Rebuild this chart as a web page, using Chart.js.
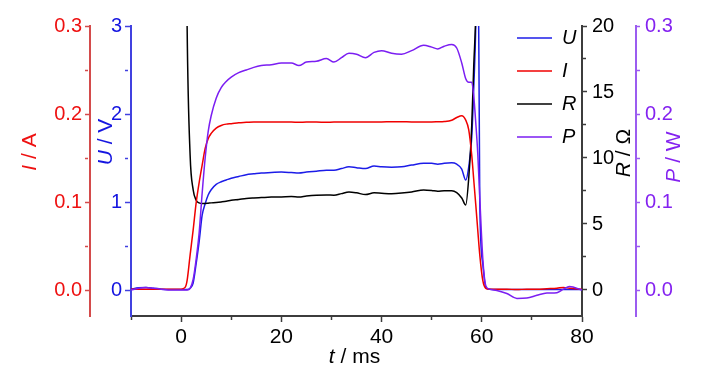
<!DOCTYPE html>
<html>
<head>
<meta charset="utf-8">
<title>U, I, R, P vs t</title>
<script src="https://cdn.jsdelivr.net/npm/chart.js@4.4.1/dist/chart.umd.min.js"></script>
<style>
  html, body { margin: 0; padding: 0; background: #fff; }
  #wrap { width: 728px; height: 372px; }
</style>
</head>
<body>
<div id="wrap"><canvas id="chart" width="728" height="372"></canvas></div>
<script>
// ─── Data ─────────────────────────────────────────────────────────────────────
const timeMs = [-10, -8.5, -7, -5.5, -4, -2, 0, 0.8, 1.2, 1.8,
  2.4, 3, 3.6, 4.2, 4.8, 5.4, 6, 7, 8, 9,
  10, 11.5, 13, 14.5, 16, 18, 20, 22, 23.5, 25,
  27, 29, 30.5, 32, 33.5, 35, 36.8, 38.5, 40, 42,
  44, 46, 48.4, 50, 51.2, 52.5, 54, 55, 56, 56.8,
  57.4, 58, 58.4, 58.8, 59.2, 59.6, 60.2, 60.8, 61.5, 63,
  65, 67, 69, 71, 73, 75, 76.3, 77.5, 80];

const voltage = [0.01, 0.025, 0.03, 0.02, 0.01, 0.005, 0.005, 0.005, 0.005, 0.02,
  0.08, 0.30, 0.55, 0.85, 0.98, 1.08, 1.14, 1.20, 1.23, 1.25,
  1.27, 1.29, 1.31, 1.32, 1.33, 1.335, 1.34, 1.335, 1.33, 1.34,
  1.35, 1.36, 1.36, 1.38, 1.40, 1.39, 1.38, 1.41, 1.40, 1.395,
  1.40, 1.42, 1.44, 1.44, 1.43, 1.44, 1.445, 1.43, 1.375, 1.25,
  1.40, 1.74, 2.3, 3.0, 4.5, 1.0, 0.3, 0.03, 0.01, 0.005,
  0.005, 0.005, 0.005, 0.005, 0.005, 0.005, 0.005, 0.005, 0.005];

const current = [0.001, 0.001, 0.001, 0.001, 0.001, 0.001, 0.001, 0.003, 0.011, 0.040,
  0.068, 0.099, 0.122, 0.142, 0.161, 0.172, 0.178, 0.184, 0.187, 0.1885,
  0.189, 0.190, 0.1905, 0.191, 0.191, 0.191, 0.191, 0.191, 0.1905, 0.191,
  0.191, 0.1905, 0.191, 0.191, 0.191, 0.191, 0.191, 0.191, 0.191, 0.1912,
  0.1912, 0.191, 0.191, 0.191, 0.1912, 0.1915, 0.193, 0.196, 0.198, 0.193,
  0.182, 0.153, 0.125, 0.097, 0.068, 0.040, 0.011, 0.002, 0.001, 0.001,
  0.001, 0.0005, 0.001, 0.001, 0.0015, 0.002, 0.003, 0.002, 0.001];

const resistance = [null, null, null, null, null, null, null, 40, 20, 10.2,
  7.6, 6.8, 6.6, 6.55, 6.56, 6.58, 6.6, 6.63, 6.67, 6.72,
  6.8, 6.86, 6.93, 6.97, 7.0, 7.04, 7.05, 7.08, 7.05, 7.12,
  7.18, 7.2, 7.18, 7.3, 7.42, 7.36, 7.23, 7.36, 7.33, 7.3,
  7.34, 7.42, 7.58, 7.54, 7.48, 7.52, 7.52, 7.38, 6.97, 6.44,
  8.5, 12.5, 17, 21, 30, null, null, null, null, null,
  null, null, null, null, null, null, null, null, null];

const power = [0.0, 0.002, 0.003, 0.002, 0.001, 0.0, 0.0, 0.0, 0.0, 0.002,
  0.012, 0.035, 0.065, 0.11, 0.15, 0.18, 0.198, 0.218, 0.230, 0.237,
  0.242, 0.247, 0.250, 0.253, 0.255, 0.256, 0.258, 0.258, 0.255, 0.259,
  0.260, 0.263, 0.259, 0.264, 0.269, 0.268, 0.264, 0.270, 0.272, 0.269,
  0.268, 0.272, 0.278, 0.276, 0.274, 0.277, 0.279, 0.275, 0.258, 0.240,
  0.236, 0.236, 0.22, 0.19, 0.155, 0.105, 0.036, 0.005, 0.001, -0.0005,
  -0.004, -0.0095, -0.009, -0.006, -0.0035, -0.003, 0.001, 0.004, 0.0];

// Tick values and labels ('' = minor tick)
const timeTicks = [-10, 0, 10, 20, 30, 40, 50, 60, 70, 80];
const timeTickLabels = ['', '0', '', '20', '', '40', '', '60', '', '80'];
const voltageTicks = [0, 0.5, 1, 1.5, 2, 2.5, 3];
const voltageTickLabels = ['0', '', '1', '', '2', '', '3'];
const currentTicks = [0, 0.05, 0.1, 0.15, 0.2, 0.25, 0.3];
const currentTickLabels = ['0.0', '', '0.1', '', '0.2', '', '0.3'];
const resistanceTicks = [0, 2.5, 5, 7.5, 10, 12.5, 15, 17.5, 20];
const resistanceTickLabels = ['0', '', '5', '', '10', '', '15', '', '20'];
const powerTicks = [0, 0.05, 0.1, 0.15, 0.2, 0.25, 0.3];
const powerTickLabels = ['0.0', '', '0.1', '', '0.2', '', '0.3'];

// ─── Style ────────────────────────────────────────────────────────────────────
const FONT = "'Liberation Sans', Arial, sans-serif";

const COLORS = {
  voltage: { line: '#1c1ce8', text: '#1515e0', axis: '#4141e0' },
  current: { line: '#f00000', text: '#ee1111', axis: '#d44b4b' },
  resistance: { line: '#000000', text: '#000000', axis: '#3c3c3c' },
  power: { line: '#7b1ef2', text: '#8422f0', axis: '#9b5cf0' },
  time: { text: '#000000', axis: '#3c3c3c' },
};

// ─── Helpers ──────────────────────────────────────────────────────────────────
const points = values => timeMs.map((t, i) => ({ x: t, y: values[i] }));
const fixedTicks = values => scale => { scale.ticks = values.map(v => ({ value: v })); };
const minorDash = labels => ctx => (labels[ctx.index] === '' ? [3, 20] : []);

function yAxis({ position, min, max, ticks, labels, colors, width, tickLength, padding }) {
  return {
    type: 'linear', position, min, max,
    afterBuildTicks: fixedTicks(ticks),
    afterFit: scale => { scale.width = width; },
    border: { display: true, color: colors.axis, width: 2 },
    grid: {
      display: true, drawOnChartArea: false, drawTicks: true,
      tickLength, tickColor: colors.axis, tickWidth: 1.5,
      tickBorderDash: minorDash(labels),
    },
    ticks: {
      autoSkip: false, padding, color: colors.text,
      font: { size: 20, family: FONT },
      callback: (v, i) => labels[i],
    },
  };
}

function series(label, values, colors, axis, order) {
  return {
    label, data: points(values), yAxisID: axis, order,
    borderColor: colors.line, backgroundColor: colors.line,
    borderWidth: 1.5, pointRadius: 0, fill: false,
    cubicInterpolationMode: 'monotone', spanGaps: false,
  };
}

// Draws a title made of plain and italic pieces, centred on (cx, cy)
function drawRichText(ctx, parts, cx, cy, angle, color) {
  ctx.save();
  ctx.translate(cx, cy);
  ctx.rotate(angle);
  ctx.fillStyle = color;
  ctx.textBaseline = 'middle';
  ctx.textAlign = 'left';
  const fonts = parts.map(p => `${p[1] ? 'italic ' : ''}21px ${FONT}`);
  const widths = parts.map((p, k) => { ctx.font = fonts[k]; return ctx.measureText(p[0]).width; });
  let x = -widths.reduce((a, b) => a + b, 0) / 2;
  parts.forEach((p, k) => { ctx.font = fonts[k]; ctx.fillText(p[0], x, 0); x += widths[k]; });
  ctx.restore();
}

const axisTitles = {
  id: 'axisTitles',
  afterDraw(chart) {
    const { ctx, scales, chartArea } = chart;
    const up = -Math.PI / 2;
    drawRichText(ctx, [['I', true], [' / A']], scales.yI.left + 30, chartArea.top + 126, up, COLORS.current.text);
    drawRichText(ctx, [['U', true], [' / V']], scales.yU.left + 16, chartArea.top + 116, up, COLORS.voltage.text);
    drawRichText(ctx, [['R', true], [' / Ω']], scales.yR.left + 42, chartArea.top + 127, up, COLORS.resistance.text);
    drawRichText(ctx, [['P', true], [' / W']], scales.yP.left + 38, chartArea.top + 131, up, COLORS.power.text);
    drawRichText(ctx, [['t', true], [' / ms']], (chartArea.left + chartArea.right) / 2 - 2, scales.x.top + 41, 0, COLORS.time.text);
  },
};

// Moves the legend to the top-right corner of the plot
const legendSpot = {
  id: 'legendSpot',
  afterLayout(chart) {
    const lg = chart.legend;
    if (!lg) return;
    lg.left = chart.chartArea.right - 78;
    lg.top = chart.chartArea.top - 11;
    lg.right = lg.left + lg.width;
    lg.bottom = lg.top + lg.height;
  },
};

// ─── Chart ────────────────────────────────────────────────────────────────────
new Chart(document.getElementById('chart'), {
  type: 'line',
  data: {
    datasets: [
      series('U', voltage, COLORS.voltage, 'yU', 3),
      series('I', current, COLORS.current, 'yI', 1),
      series('R', resistance, COLORS.resistance, 'yR', 2),
      series('P', power, COLORS.power, 'yP', 0),
    ],
  },
  options: {
    responsive: false,
    animation: false,
    events: [],
    layout: { padding: { top: 26, left: 0, right: 0, bottom: 0 } },
    plugins: {
      tooltip: { enabled: false },
      legend: {
        position: 'chartArea', align: 'start',
        labels: {
          usePointStyle: true, pointStyle: 'line', pointStyleWidth: 35,
          padding: 13, color: '#000',
          font: { size: 20, style: 'italic', family: FONT },
          sort: (a, b) => a.datasetIndex - b.datasetIndex,
        },
      },
    },
    scales: {
      x: {
        type: 'linear', position: 'bottom', min: -10, max: 80,
        afterBuildTicks: fixedTicks(timeTicks),
        afterFit: scale => { scale.height = 56; },
        border: { display: true, color: COLORS.time.axis, width: 2 },
        grid: {
          display: true, drawOnChartArea: false, drawTicks: true,
          tickLength: 6, tickColor: COLORS.time.axis, tickWidth: 1.5,
          tickBorderDash: minorDash(timeTickLabels),
        },
        ticks: {
          autoSkip: false, maxRotation: 0, minRotation: 0, padding: 3,
          color: COLORS.time.text, font: { size: 21, family: FONT },
          callback: (v, i) => timeTickLabels[i],
        },
      },
      yU: yAxis({ position: 'left', min: -0.295, max: 3, ticks: voltageTicks, labels: voltageTickLabels,
        colors: COLORS.voltage, width: 41, tickLength: 6, padding: 3 }),
      yI: yAxis({ position: 'left', min: -0.0295, max: 0.3, ticks: currentTicks, labels: currentTickLabels,
        colors: COLORS.current, width: 90, tickLength: 5, padding: 3 }),
      yR: yAxis({ position: 'right', min: -1.97, max: 20, ticks: resistanceTicks, labels: resistanceTickLabels,
        colors: COLORS.resistance, width: 54, tickLength: 5, padding: 5 }),
      yP: yAxis({ position: 'right', min: -0.0295, max: 0.3, ticks: powerTicks, labels: powerTickLabels,
        colors: COLORS.power, width: 92, tickLength: 4, padding: 5 }),
    },
  },
  plugins: [legendSpot, axisTitles],
});
</script>
</body>
</html>
